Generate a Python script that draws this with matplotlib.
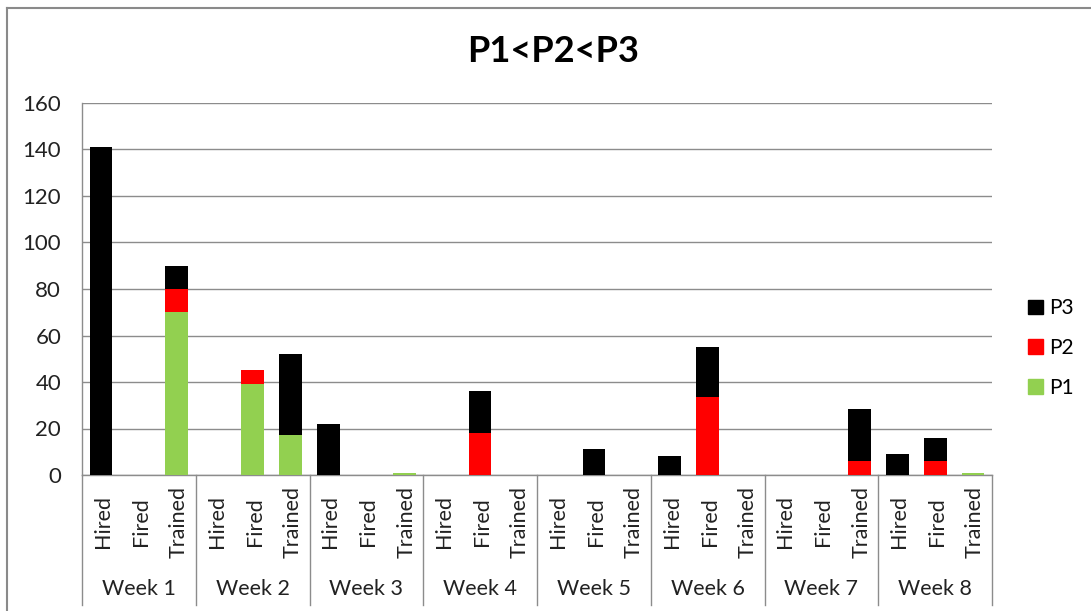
import matplotlib
matplotlib.use("Agg")
import matplotlib.pyplot as plt
from matplotlib.lines import Line2D
from matplotlib.patches import Patch
import numpy as np

plt.rcParams["font.family"] = ["Lato", "DejaVu Sans"]

weeks = ["Week 1", "Week 2", "Week 3", "Week 4", "Week 5", "Week 6", "Week 7", "Week 8"]
actions = ["Hired", "Fired", "Trained"]

# values per (week, action), stacked P1 -> P2 -> P3
p1 = [0, 0, 70,  0, 39, 17,  0, 0, 0.8,  0, 0, 0,   0, 0, 0,   0, 0, 0,     0, 0, 0,    0, 0, 0.8]
p2 = [0, 0, 10,  0, 6, 0,    0, 0, 0,    0, 18, 0,  0, 0, 0,   0, 33.5, 0,  0, 0, 6,    0, 6, 0]
p3 = [141, 0, 10, 0, 0, 35,  22, 0, 0,   0, 18, 0,  0, 11, 0,  8, 21.5, 0,  0, 0, 22.5, 9, 10, 0]

c_p1 = "#92D050"
c_p2 = "#FF0000"
c_p3 = "#000000"
grid_c = "#8C8C8C"

W, H = 1091, 611
fig = plt.figure(figsize=(W / 100, H / 100), dpi=100)
ax = fig.add_axes([82 / W, (H - 475) / H, (992 - 82) / W, (475 - 103) / H])

x = np.arange(len(p1))
p1 = np.array(p1)
p2 = np.array(p2)
p3 = np.array(p3)
ax.bar(x, p1, width=0.6, color=c_p1, label="P1", zorder=3)
ax.bar(x, p2, width=0.6, bottom=p1, color=c_p2, label="P2", zorder=3)
ax.bar(x, p3, width=0.6, bottom=p1 + p2, color=c_p3, label="P3", zorder=3)

ax.set_xlim(-0.5, len(x) - 0.5)
ax.set_ylim(0, 160)
ax.set_yticks(np.arange(0, 161, 20))
ax.tick_params(axis="y", length=0, labelsize=16, pad=15, labelcolor="#222222")
ax.set_xticks([])
ax.grid(axis="y", color=grid_c, linewidth=1.0, zorder=0)
for side in ["top", "right"]:
    ax.spines[side].set_visible(False)
for side in ["left", "bottom"]:
    ax.spines[side].set_color(grid_c)
    ax.spines[side].set_linewidth(1.0)

# two-level category axis
trans = ax.get_xaxis_transform()
for i in range(len(x)):
    ax.text(x[i] + 0.05, -0.126, actions[i % 3], transform=trans, rotation=90,
            ha="center", va="center", fontsize=15.5, color="#222222")
for k, wk in enumerate(weeks):
    ax.text(3 * k + 1, -0.307, wk, transform=trans, ha="center", va="center",
            fontsize=15.5, color="#222222")
for b in np.arange(-0.5, len(x), 3):
    ax.add_line(Line2D([b, b], [0, -0.35], transform=trans, color=grid_c,
                       linewidth=1.0, clip_on=False))

fig.text(553 / W, 1 - 52 / H, "P1<P2<P3", ha="center", va="center",
         fontsize=26, fontweight="bold")

handles = [Patch(color=c_p3, label="P3"), Patch(color=c_p2, label="P2"),
           Patch(color=c_p1, label="P1")]
fig.legend(handles=handles, loc="center left", bbox_to_anchor=(1028 / W, 1 - 348 / H),
           frameon=False, fontsize=15, handlelength=0.7, handleheight=0.7,
           handletextpad=0.3, labelspacing=0.95, borderpad=0, borderaxespad=0)

# chart border (top and left edges visible)
fig.add_artist(Line2D([7 / W, 7 / W], [0, 1 - 8 / H], transform=fig.transFigure,
                      color="#8A8A8A", linewidth=1.5))
fig.add_artist(Line2D([7 / W, 1], [1 - 8 / H, 1 - 8 / H], transform=fig.transFigure,
                      color="#8A8A8A", linewidth=1.5))

fig.savefig("out.png", dpi=100)
